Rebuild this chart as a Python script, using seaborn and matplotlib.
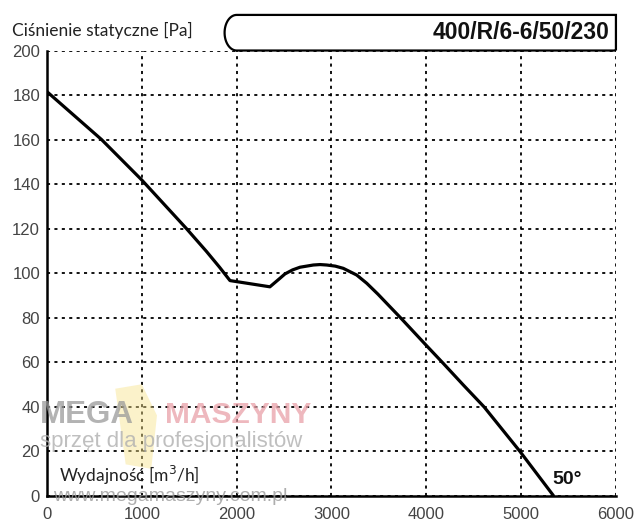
import numpy as np
import pandas as pd
import matplotlib

matplotlib.use("Agg")
import matplotlib.pyplot as plt
import seaborn as sns
from matplotlib.path import Path
from matplotlib.patches import PathPatch, Polygon

# fan curve: airflow [m3/h] vs static pressure [Pa]
flow = [0, 575, 1000, 1470, 1680, 1820, 1930, 2351, 2456, 2510, 2590, 2668, 2809, 2880, 2950,
        3040, 3125, 3266, 3372, 3490, 3600, 3726, 3995, 4181, 4392, 4610, 4990, 5340]
pressure = [181.5, 160, 141.8, 120, 109.8, 102.6, 96.6, 93.8, 97.6, 99.6, 101.4, 102.6, 103.6, 103.8, 103.6,
            103.1, 102.1, 99.1, 95.4, 90.5, 85.6, 80, 67.7, 59.3, 49.6, 39.8, 19.7, 0]

x_ticks = [0, 1000, 2000, 3000, 4000, 5000, 6000]
y_ticks = [0, 20, 40, 60, 80, 100, 120, 140, 160, 180, 200]

model = "400/R/6-6/50/230"
angle_label = "50°"
y_title = "Ciśnienie statyczne [Pa]"
x_title = "Wydajność [m$^3$/h]"

df = pd.DataFrame({"flow": flow, "pressure": pressure})

sns.set_theme(style="white")
plt.rcParams["font.family"] = ["Liberation Sans", "DejaVu Sans"]

fig = plt.figure(figsize=(6.4, 5.29), dpi=100)
ax = fig.add_axes([0.0734, 0.0633, 0.889, 0.8412])

sns.lineplot(data=df, x="flow", y="pressure", color="black", linewidth=2.3, ax=ax, zorder=5)

ax.set_xlim(0, 6000)
ax.set_ylim(0, 200)
ax.set_xticks(x_ticks)
ax.set_yticks(y_ticks)
ax.tick_params(axis="both", length=0, labelsize=12, labelcolor="#444444")
ax.tick_params(axis="x", pad=8)
ax.tick_params(axis="y", pad=5)
ax.set_xlabel("")
ax.set_ylabel("")

ax.grid(True, color="black", linewidth=1.3, linestyle=(0, (1.7, 2.4)))
for side in ["top", "right"]:
    ax.spines[side].set_visible(False)
for side in ["left", "bottom"]:
    ax.spines[side].set_color("black")
    ax.spines[side].set_linewidth(1.8)
    ax.spines[side].set_zorder(4)

# header box with rounded left end, sitting on the 200 Pa line
rx, ry = 127, 8
theta = np.linspace(np.pi / 2, 3 * np.pi / 2, 30)
arc = np.column_stack([2000 + rx * np.cos(theta), 208 + ry * np.sin(theta)])
verts = [(6000, 200), (6000, 216), (2000, 216)] + [tuple(p) for p in arc] + [(6000, 200)]
codes = [Path.MOVETO] + [Path.LINETO] * (len(verts) - 1)
box = PathPatch(Path(verts, codes), facecolor="white", edgecolor="black",
                linewidth=1.6, clip_on=False, zorder=6)
ax.add_patch(box)
ax.text(5930, 208, model, ha="right", va="center", fontsize=16.5, fontweight="bold",
        color="#111111", zorder=7, clip_on=False)

fig.text(0.018, 0.942, y_title, ha="left", va="center", fontsize=12.5,
         family=["Lato", "DejaVu Sans"], color="#222222")
ax.text(130, 9, x_title, ha="left", va="center", fontsize=12.5,
        family=["Lato", "DejaVu Sans"], color="#222222", zorder=8)
ax.text(5330, 7.2, angle_label, ha="left", va="center", fontsize=14, fontweight="bold",
        color="#111111", zorder=8)

# watermark
ax.add_patch(Polygon([[720, 48], [1000, 50], [1160, 36], [1100, 12], [830, 14]],
                     closed=True, facecolor="#f7e38a", edgecolor="none", alpha=0.45, zorder=3))
ax.text(-70, 36, "MEGA", ha="left", va="center", fontsize=22.5, fontweight="bold",
        color="#9a9a9a", alpha=0.75, zorder=8)
ax.text(1244, 36, "MASZYNY", ha="left", va="center", fontsize=21.5, fontweight="bold",
        color="#e9a0a8", alpha=0.75, zorder=8)
ax.text(-75, 24.5, "sprzęt dla profesjonalistów", ha="left", va="center", fontsize=16,
        color="#b0b0b0", alpha=0.8, zorder=8)
ax.text(60, -0.5, "www.megamaszyny.com.pl", ha="left", va="center", fontsize=14,
        color="#9a9a9a", alpha=0.8, zorder=8)

fig.savefig("out.png", dpi=100, facecolor="white")
